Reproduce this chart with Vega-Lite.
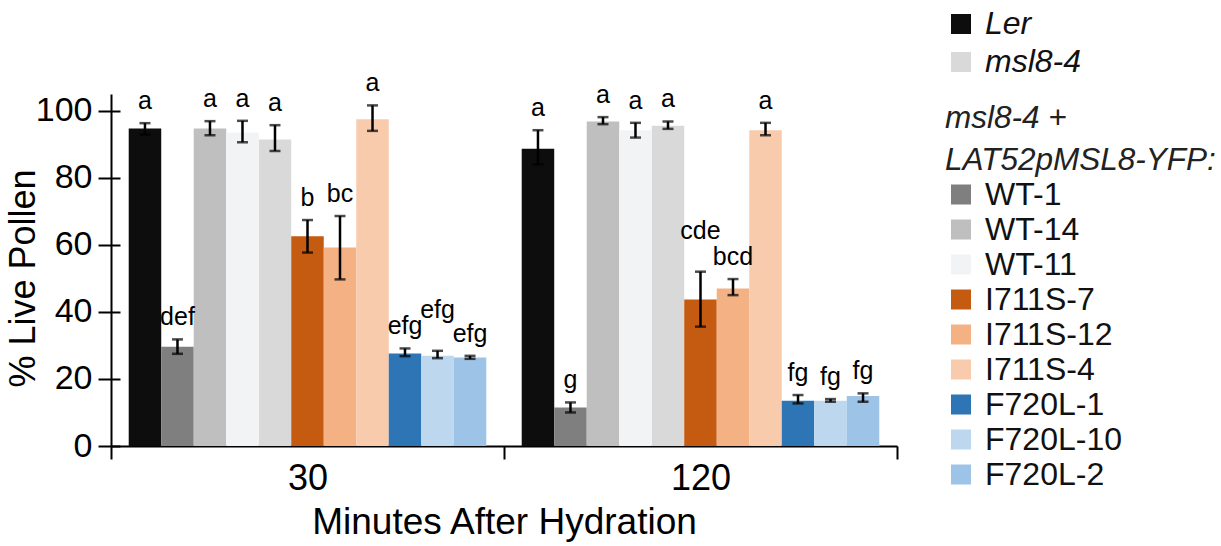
{
  "$schema": "https://vega.github.io/schema/vega-lite/v6.json",
  "width": 786,
  "height": 352,
  "autosize": {"type": "none"},
  "padding": {"left": 111, "top": 94, "right": 324, "bottom": 100},
  "background": "white",
  "config": {
    "font": "Liberation Sans",
    "view": {"stroke": null},
    "axis": {"grid": false, "domainColor": "#000", "domainWidth": 2, "tickColor": "#000", "tickWidth": 2, "labelColor": "#000", "titleColor": "#000", "titleFontWeight": "normal"}
  },
  "resolve": {"axis": {"y": "independent"}},
  "data": {
    "values": [
      {"time": "30", "line": "Ler", "mean": 94.7, "lo": 92.9, "hi": 96.3, "letter": "a"},
      {"time": "30", "line": "WT-1", "mean": 29.6, "lo": 27.5, "hi": 31.8, "letter": "def"},
      {"time": "30", "line": "WT-14", "mean": 94.7, "lo": 92.7, "hi": 96.9, "letter": "a"},
      {"time": "30", "line": "WT-11", "mean": 93.5, "lo": 90.6, "hi": 97.0, "letter": "a"},
      {"time": "30", "line": "msl8-4", "mean": 91.4, "lo": 88.0, "hi": 95.7, "letter": "a"},
      {"time": "30", "line": "I711S-7", "mean": 62.6, "lo": 57.7, "hi": 67.4, "letter": "b"},
      {"time": "30", "line": "I711S-12", "mean": 59.2, "lo": 49.7, "hi": 68.6, "letter": "bc"},
      {"time": "30", "line": "I711S-4", "mean": 97.5, "lo": 94.0, "hi": 101.6, "letter": "a"},
      {"time": "30", "line": "F720L-1", "mean": 27.6, "lo": 26.8, "hi": 29.1, "letter": "efg"},
      {"time": "30", "line": "F720L-10", "mean": 26.9, "lo": 26.2, "hi": 28.4, "letter": "efg"},
      {"time": "30", "line": "F720L-2", "mean": 26.4, "lo": 26.0, "hi": 26.9, "letter": "efg"},
      {"time": "120", "line": "Ler", "mean": 88.7, "lo": 84.0, "hi": 94.2, "letter": "a"},
      {"time": "120", "line": "WT-1", "mean": 11.5, "lo": 10.0, "hi": 13.0, "letter": "g"},
      {"time": "120", "line": "WT-14", "mean": 96.8, "lo": 96.0, "hi": 98.1, "letter": "a"},
      {"time": "120", "line": "WT-11", "mean": 94.2, "lo": 92.0, "hi": 96.4, "letter": "a"},
      {"time": "120", "line": "msl8-4", "mean": 95.5, "lo": 94.6, "hi": 96.8, "letter": "a"},
      {"time": "120", "line": "I711S-7", "mean": 43.7, "lo": 35.6, "hi": 52.0, "letter": "cde"},
      {"time": "120", "line": "I711S-12", "mean": 47.0, "lo": 45.0, "hi": 49.8, "letter": "bcd"},
      {"time": "120", "line": "I711S-4", "mean": 94.2, "lo": 92.7, "hi": 96.4, "letter": "a"},
      {"time": "120", "line": "F720L-1", "mean": 13.5, "lo": 12.7, "hi": 15.2, "letter": "fg"},
      {"time": "120", "line": "F720L-10", "mean": 13.5, "lo": 13.2, "hi": 14.0, "letter": "fg"},
      {"time": "120", "line": "F720L-2", "mean": 14.9, "lo": 13.2, "hi": 15.7, "letter": "fg"}
    ]
  },
  "encoding": {
    "x": {
      "field": "time", "type": "nominal", "sort": ["30", "120"],
      "title": "Minutes After Hydration",
      "scale": {"paddingInner": 0, "paddingOuter": 0},
      "axis": {"labelAngle": 0, "labelFontSize": 36, "titleFontSize": 37, "tickSize": 13, "labelPadding": 2, "titlePadding": 8, "tickBand": "extent"}
    },
    "xOffset": {
      "field": "line", "type": "nominal",
      "scale": {"domain": ["Ler", "WT-1", "WT-14", "WT-11", "msl8-4", "I711S-7", "I711S-12", "I711S-4", "F720L-1", "F720L-10", "F720L-2"], "paddingInner": 0, "paddingOuter": 0.545}
    }
  },
  "layer": [
    {
      "transform": [{"filter": "datum.line === 'Ler' || datum.line === 'msl8-4'"}],
      "mark": {"type": "bar"},
      "encoding": {
        "y": {"field": "mean", "type": "quantitative", "title": "% Live Pollen", "scale": {"domain": [0, 105], "nice": false},
          "axis": {"values": [0, 20, 40, 60, 80, 100], "labelFontSize": 34, "titleFontSize": 36, "tickSize": 13, "labelPadding": 6, "titleX": -77, "titleY": 184, "titleBaseline": "alphabetic", "titleAlign": "center", "titleAngle": -90}},
        "fill": {"field": "line", "type": "nominal",
          "scale": {"domain": ["Ler", "msl8-4"], "range": ["#0d0d0d", "#d9d9d9"]},
          "legend": {"title": null, "orient": "none", "legendX": 834, "legendY": -86, "symbolType": "square", "symbolSize": 400, "symbolStrokeWidth": 0, "labelFontSize": 32, "labelFontStyle": "italic", "labelColor": "#111", "labelOffset": 8, "rowPadding": 6, "padding": 0, "labelLimit": 300}}
      }
    },
    {
      "transform": [{"filter": "datum.line !== 'Ler' && datum.line !== 'msl8-4'"}],
      "mark": {"type": "bar"},
      "encoding": {
        "y": {"field": "mean", "type": "quantitative", "title": "% Live Pollen", "axis": null},
        "color": {"field": "line", "type": "nominal",
          "scale": {"domain": ["WT-1", "WT-14", "WT-11", "I711S-7", "I711S-12", "I711S-4", "F720L-1", "F720L-10", "F720L-2"],
            "range": ["#7f7f7f", "#bfbfbf", "#f2f3f5", "#c55a11", "#f4b183", "#f8cbad", "#2e75b6", "#bdd7ee", "#9dc3e6"]},
          "legend": {"title": ["msl8-4 +", "LAT52pMSL8-YFP:"], "titleFontStyle": "italic", "titleFontWeight": "normal", "titleFontSize": 31.5, "titleColor": "#222", "titleLineHeight": 42, "titlePadding": 2, "titleLimit": 400,
            "orient": "none", "legendX": 834, "legendY": 9, "symbolType": "square", "symbolSize": 400, "symbolStrokeWidth": 0, "labelFontSize": 32, "labelColor": "#111", "labelOffset": 8, "rowPadding": 3, "padding": 0, "labelLimit": 300}}
      }
    },
    {
      "mark": {"type": "rule", "strokeWidth": 2.5, "color": "#000"},
      "encoding": {
        "y": {"field": "lo", "type": "quantitative", "title": "% Live Pollen",
          "axis": {"orient": "right", "offset": -786, "values": [0, 20, 40, 60, 80, 100], "tickSize": 9, "labels": false, "domain": false, "title": null}},
        "y2": {"field": "hi"}
      }
    },
    {
      "mark": {"type": "tick", "size": 11, "thickness": 2.5, "color": "#000"},
      "encoding": {"y": {"field": "lo", "type": "quantitative", "title": "% Live Pollen", "axis": null}}
    },
    {
      "mark": {"type": "tick", "size": 11, "thickness": 2.5, "color": "#000"},
      "encoding": {"y": {"field": "hi", "type": "quantitative", "title": "% Live Pollen", "axis": null}}
    },
    {
      "transform": [{"filter": "!((datum.time === '30' && datum.line === 'F720L-10') || (datum.time === '120' && datum.line === 'I711S-7'))"}],
      "mark": {"type": "text", "dy": -14, "fontSize": 25, "baseline": "alphabetic", "color": "#000"},
      "encoding": {"y": {"field": "hi", "type": "quantitative", "title": "% Live Pollen", "axis": null}, "text": {"field": "letter"}}
    },
    {
      "transform": [{"filter": "(datum.time === '30' && datum.line === 'F720L-10') || (datum.time === '120' && datum.line === 'I711S-7')"}],
      "mark": {"type": "text", "dy": -33, "fontSize": 25, "baseline": "alphabetic", "color": "#000"},
      "encoding": {"y": {"field": "hi", "type": "quantitative", "title": "% Live Pollen", "axis": null}, "text": {"field": "letter"}}
    }
  ]
}
